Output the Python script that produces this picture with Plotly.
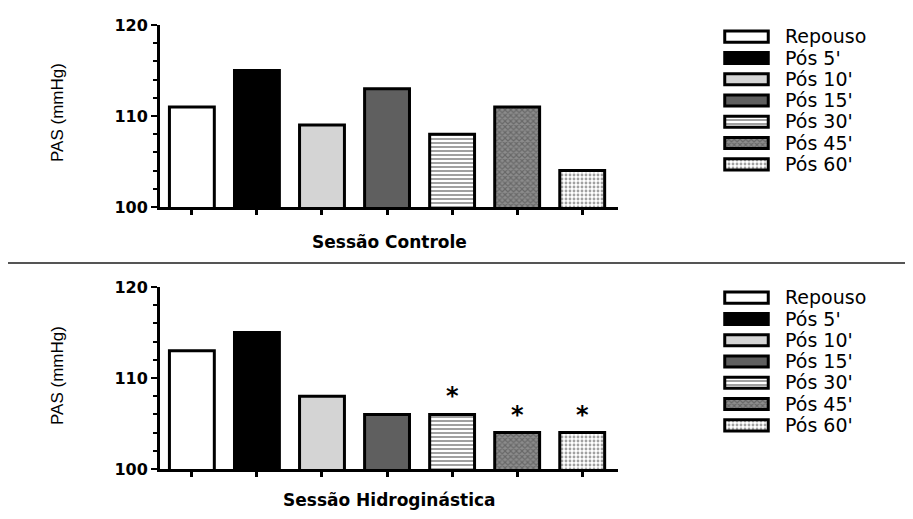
import plotly.graph_objects as go

# ---- data ----
categories = ["Repouso", "Pós 5'", "Pós 10'", "Pós 15'", "Pós 30'", "Pós 45'", "Pós 60'"]
pas_controle = [111, 115, 109, 113, 108, 111, 104]
pas_hidro = [113, 115, 108, 106, 106, 104, 104]
signif_hidro = [False, False, False, False, True, True, True]
panel_titles = ["Sessão Controle", "Sessão Hidroginástica"]
y_ticks = [100, 110, 120]

# ---- styles ----
fill_colors = ["#ffffff", "#000000", "#d4d4d4", "#5f5f5f", "#ffffff", "#8c8c8c", "#ffffff"]
pat_shapes = ["", "", "", "", "-", "x", "."]
pat_fg = ["#000000", "#000000", "#000000", "#000000", "#808080", "#111111", "#9a9a9a"]
pat_size = [4, 4, 4, 4, 4, 4, 4]
pat_sol = [0.3, 0.3, 0.3, 0.3, 0.5, 0.5, 0.4]

# page body has an 8px margin; figure sized to fit the 913x519 window
OFF = 8
W, H = 913 - 2 * OFF, 519 - 2 * OFF
def px_x(v):
    return (v - OFF) / W
def px_y(v):
    return (H - (v - OFF)) / H

fig = go.Figure()

marker_style = dict(
    color=fill_colors,
    line=dict(color="black", width=3),
    pattern=dict(shape=pat_shapes, fgcolor=pat_fg,
                 size=pat_size, solidity=pat_sol, fillmode="overlay"),
)

# main bars
fig.add_trace(go.Bar(x=categories, y=pas_controle, marker=marker_style, width=0.69,
                     xaxis="x", yaxis="y", showlegend=False))
fig.add_trace(go.Bar(x=categories, y=pas_hidro, marker=marker_style, width=0.69,
                     xaxis="x2", yaxis="y2", showlegend=False))

# legend swatches (helper subplots)
swatch_len = [1] * len(categories)
fig.add_trace(go.Bar(y=categories, x=swatch_len, orientation="h", marker=marker_style,
                     width=0.52, xaxis="x3", yaxis="y3", showlegend=False, hoverinfo="y"))
fig.add_trace(go.Bar(y=categories, x=swatch_len, orientation="h", marker=marker_style,
                     width=0.52, xaxis="x4", yaxis="y4", showlegend=False, hoverinfo="y"))

tickfont = dict(family="DejaVu Sans", size=16, color="black", weight="bold")

xdom = [px_x(160), px_x(618)]
top_dom = [px_y(207), px_y(25)]
bot_dom = [px_y(469), px_y(287)]

def xaxis_cfg(anchor):
    return dict(domain=xdom, anchor=anchor, type="category", categoryarray=categories,
                range=[-0.49, 6.55], showline=True, linewidth=3, linecolor="black",
                ticks="outside", ticklen=5, tickwidth=3, tickcolor="black",
                showticklabels=False, showgrid=False, zeroline=False, fixedrange=True,
                automargin=False)

def yaxis_cfg(anchor, dom):
    return dict(domain=dom, anchor=anchor, range=[100, 120], tickmode="array", tickvals=y_ticks,
                showline=True, linewidth=3, linecolor="black",
                ticks="outside", ticklen=6, tickwidth=2, tickcolor="black",
                minor=dict(dtick=2, ticks="outside", ticklen=4, tickwidth=2, tickcolor="black"),
                tickfont=tickfont, showgrid=False, zeroline=False, fixedrange=True,
                automargin=False)

leg_x = [px_x(723), px_x(770)]
leg_top = [px_y(175), px_y(26)]
leg_bot = [px_y(436), px_y(287)]

def leg_x_cfg(anchor):
    return dict(domain=leg_x, anchor=anchor, range=[-0.04, 1.04], visible=False,
                fixedrange=True, automargin=False)

def leg_y_cfg(anchor, dom):
    return dict(domain=dom, anchor=anchor, side="right", type="category",
                categoryarray=categories, tickmode="array", tickvals=categories,
                ticktext=categories, range=[6.5, -0.5], showline=False,
                ticks="", showgrid=False, zeroline=False, ticklabelstandoff=14,
                tickfont=dict(family="DejaVu Sans", size=19, color="black"),
                fixedrange=True, automargin=False)

fig.update_layout(
    template="none",
    width=W, height=H,
    margin=dict(l=0, r=0, t=0, b=0, pad=0),
    paper_bgcolor="white", plot_bgcolor="rgba(0,0,0,0)",
    bargap=0.3,
    xaxis=xaxis_cfg("y"), yaxis=yaxis_cfg("x", top_dom),
    xaxis2=xaxis_cfg("y2"), yaxis2=yaxis_cfg("x2", bot_dom),
    xaxis3=leg_x_cfg("y3"), yaxis3=leg_y_cfg("x3", leg_top),
    xaxis4=leg_x_cfg("y4"), yaxis4=leg_y_cfg("x4", leg_bot),
)

annotations = []
# panel titles
for title, ypix in zip(panel_titles, [242, 500]):
    annotations.append(dict(text=title, xref="paper", yref="paper", x=px_x(389), y=px_y(ypix),
                            xanchor="center", yanchor="middle", showarrow=False,
                            font=dict(family="DejaVu Sans", size=17, color="black", weight="bold")))
# y axis titles
for ypix in [113, 376]:
    annotations.append(dict(text="PAS (mmHg)", xref="paper", yref="paper", x=px_x(57), y=px_y(ypix),
                            xanchor="center", yanchor="middle", textangle=-90, showarrow=False,
                            font=dict(family="Liberation Sans", size=17, color="black")))
# significance asterisks
for cat, val, sig in zip(categories, pas_hidro, signif_hidro):
    if sig:
        annotations.append(dict(text="*", xref="x2", yref="y2", x=cat, y=val,
                                xanchor="center", yanchor="bottom", yshift=2, showarrow=False,
                                font=dict(family="DejaVu Sans", size=24, color="black", weight="bold")))
fig.update_layout(annotations=annotations)

# separator line between panels
fig.add_shape(type="line", xref="paper", yref="paper", x0=0, x1=1,
              y0=px_y(263), y1=px_y(263), line=dict(color="#555555", width=2))

fig.write_html("out.html")
